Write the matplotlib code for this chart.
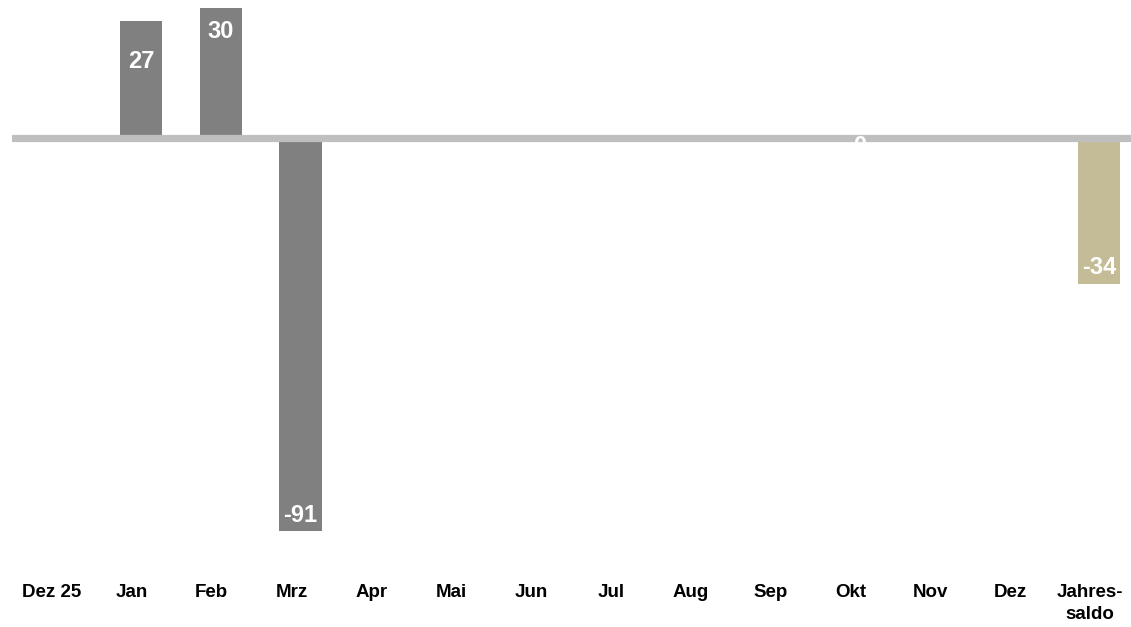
import numpy as np
import matplotlib.pyplot as plt
import matplotlib.transforms as mtransforms

plt.rcParams['font.family'] = ['Liberation Sans', 'DejaVu Sans']

categories = ["Dez 25", "Jan", "Feb", "Mrz", "Apr", "Mai", "Jun", "Jul",
              "Aug", "Sep", "Okt", "Nov", "Dez", "Jahres-\nsaldo"]
values = [np.nan, 27, 30, -91, np.nan, np.nan, np.nan, np.nan,
          np.nan, np.nan, 0, np.nan, np.nan, -34]
colors = ["#808080"] * 13 + ["#C4BC96"]

# label offsets from bar end, in data units
label_shift = {1: -9.5, 2: -5.5, 3: 3.5, 10: -2.0, 13: 3.9}

fig = plt.figure(figsize=(11.31, 6.27), dpi=100)
ax = fig.add_axes([12 / 1131, 57 / 627, 1 - 12 / 1131, 570 / 627])

x = np.arange(len(categories))
vals = np.array(values, dtype=float)
ax.bar(x, np.nan_to_num(vals), width=0.53, color=colors, zorder=2)
ax.axhline(0, color="#BFBFBF", lw=5.2, zorder=3)

for i, v in enumerate(vals):
    if np.isnan(v):
        continue
    ax.text(i, v + label_shift.get(i, 0), f"{int(v)}", ha="center", va="center",
            color="white", fontsize=17, fontweight="bold", zorder=4)

ax.set_xlim(-0.614, 13.40)
ax.set_ylim(-100.1, 31.83)
ax.set_xticks(x)
ax.set_xticklabels(categories, fontsize=13.5, fontweight="bold", linespacing=1.4)
ax.tick_params(axis="x", length=0, pad=10)
shift = mtransforms.ScaledTranslation(-9 / 100, 0, fig.dpi_scale_trans)
for lab in ax.get_xticklabels():
    lab.set_transform(lab.get_transform() + shift)
ax.set_yticks([])
for s in ax.spines.values():
    s.set_visible(False)

fig.savefig("out.png", dpi=100)
